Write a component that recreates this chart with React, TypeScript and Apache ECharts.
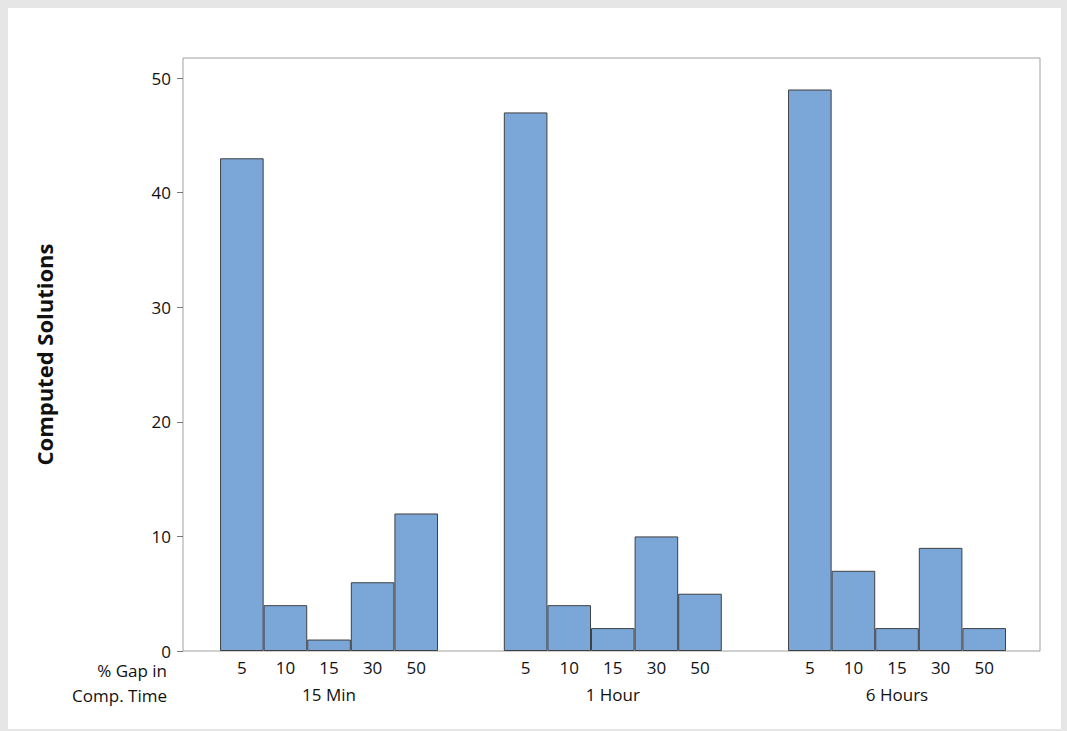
import React, { useEffect, useRef } from "react";
import * as echarts from "echarts";

const groups = ["15 Min", "1 Hour", "6 Hours"];
const gaps = ["5", "10", "15", "30", "50"];
const values15 = [43, 4, 1, 6, 12];
const values1h = [47, 4, 2, 10, 5];
const values6h = [49, 7, 2, 9, 2];
const yTicks = [0, 10, 20, 30, 40, 50];

const groupStarts = [0.85, 7.36, 13.88];
const allValues = [values15, values1h, values6h];

export default function App() {
  const ref = useRef<HTMLDivElement>(null);
  useEffect(() => {
    const chart = echarts.init(ref.current!, undefined, { renderer: "svg" });
    const pts: [number, number][] = [];
    const labelPos: number[] = [];
    const labelText: Record<string, string> = {};
    const groupPos: number[] = [];
    const groupText: Record<string, string> = {};
    allValues.forEach((vals, g) => {
      vals.forEach((v, i) => {
        const x = +(groupStarts[g] + 0.5 + i).toFixed(2);
        pts.push([x, v]);
        labelPos.push(x);
        labelText[String(x)] = gaps[i];
      });
      const c = +(groupStarts[g] + 2.5).toFixed(2);
      groupPos.push(c);
      groupText[String(c)] = groups[g];
    });
    const font = "Open Sans";
    chart.setOption({
      animation: false,
      backgroundColor: "#e6e6e6",
      graphic: [
        { type: "rect", z: -10, shape: { x: 8, y: 8, width: 1053, height: 721 }, style: { fill: "#fff" } },
        { type: "text", x: 167, y: 670, style: { text: "% Gap in", fontSize: 17, fontFamily: font, fill: "#111", align: "right", verticalAlign: "middle" } },
        { type: "text", x: 167, y: 695, style: { text: "Comp. Time", fontSize: 17, fontFamily: font, fill: "#111", align: "right", verticalAlign: "middle" } },
      ],
      grid: { left: 183, top: 58, width: 857, height: 593, show: true, borderColor: "#a0a0a0", borderWidth: 1, backgroundColor: "transparent" },
      xAxis: [
        {
          type: "value", min: 0, max: 19.66, splitLine: { show: false },
          axisLine: { show: false }, axisTick: { show: false },
          axisLabel: { customValues: labelPos, formatter: (v: number) => labelText[String(+v.toFixed(2))] ?? "", fontSize: 17, fontFamily: font, color: "#111", margin: 8 },
        },
        {
          type: "value", min: 0, max: 19.66, position: "bottom", offset: 27, splitLine: { show: false },
          axisLine: { show: false }, axisTick: { show: false },
          axisLabel: { customValues: groupPos, formatter: (v: number) => groupText[String(+v.toFixed(2))] ?? "", fontSize: 17, fontFamily: font, color: "#111", margin: 8 },
        },
      ],
      yAxis: {
        type: "value", min: 0, max: 51.75, interval: 10,
        name: "Computed Solutions", nameLocation: "middle", nameGap: 128,
        nameTextStyle: { fontSize: 22, fontWeight: "bold", fontFamily: font, color: "#111" },
        axisLine: { show: false }, splitLine: { show: false },
        axisTick: { show: true, length: 6, lineStyle: { color: "#777" }, customValues: yTicks },
        axisLabel: { customValues: yTicks, fontSize: 17, fontFamily: font, color: "#111", margin: 12, verticalAlign: "middle" },
      },
      series: [
        {
          type: "bar", xAxisIndex: 0, data: pts, barWidth: 43.6,
          itemStyle: { color: "#7ba6d8", borderColor: "#404040", borderWidth: 1 },
        },
      ],
    });
    return () => chart.dispose();
  }, []);
  return <div ref={ref} style={{ position: "fixed", left: 0, top: 0, width: 1067, height: 731 }} />;
}
